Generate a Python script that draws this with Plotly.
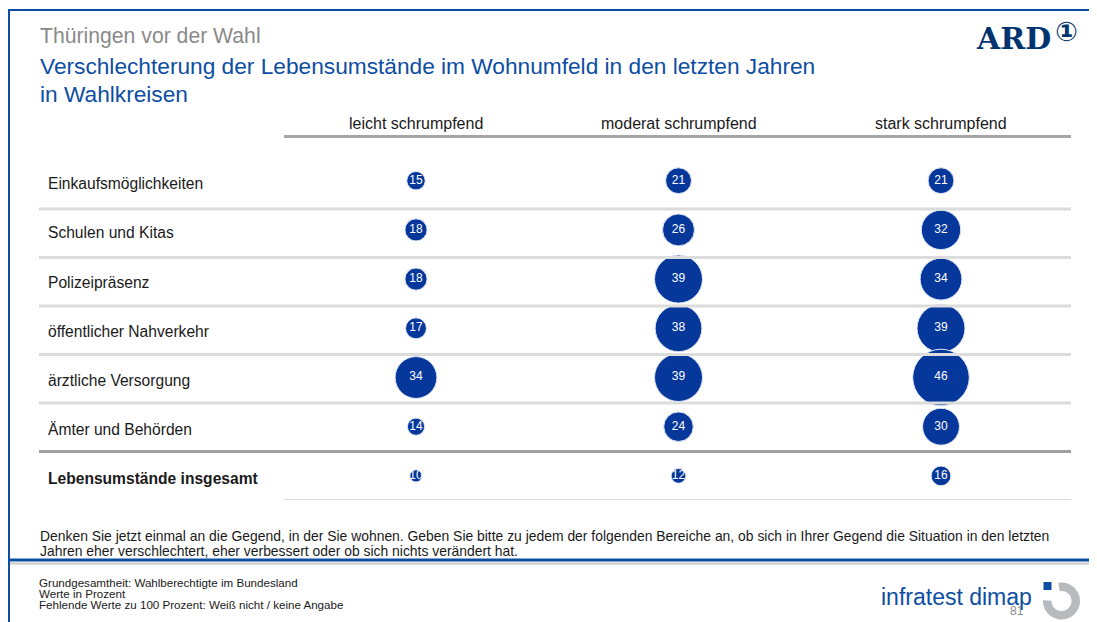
import numpy as np
import plotly.graph_objects as go

# browser body has an 8px margin, so the figure is drawn 8px smaller and shifted
OFF = 8
W, H = 1097 - OFF, 622 - OFF

rows = ["Einkaufsmöglichkeiten", "Schulen und Kitas", "Polizeipräsenz",
        "öffentlicher Nahverkehr", "ärztliche Versorgung", "Ämter und Behörden",
        "Lebensumstände insgesamt"]
cols = ["leicht schrumpfend", "moderat schrumpfend", "stark schrumpfend"]

leicht = [15, 18, 18, 17, 34, 14, 10]
moderat = [21, 26, 39, 38, 39, 24, 12]
stark = [21, 32, 34, 39, 46, 30, 16]
series = [leicht, moderat, stark]

title_top = "Thüringen vor der Wahl"
title_main = "Verschlechterung der Lebensumstände im Wohnumfeld in den letzten Jahren"
title_sub = "in Wahlkreisen"
question = ["Denken Sie jetzt einmal an die Gegend, in der Sie wohnen. Geben Sie bitte zu jedem der folgenden "
            "Bereiche an, ob sich in Ihrer Gegend die Situation in den letzten",
            "Jahren eher verschlechtert, eher verbessert oder ob sich nichts verändert hat."]
footer = ["Grundgesamtheit: Wahlberechtigte im Bundesland", "Werte in Prozent",
          "Fehlende Werte zu 100 Prozent: Weiß nicht / keine Angabe"]

BLUE = "#06389b"
FRAME = "#0d4ea3"
FONT = "Arial, Liberation Sans, sans-serif"


def px(x):
    return (x - OFF) / W


def py(y):
    return 1 - (y - OFF) / H


fig = go.Figure()

for col, vals in zip(cols, series):
    fig.add_trace(go.Scatter(
        x=[col] * len(rows), y=rows, mode="markers+text",
        text=[str(v) for v in vals], textposition="middle center",
        textfont=dict(color="white", size=12, family=FONT),
        marker=dict(size=vals, sizemode="diameter", sizeref=1 / 1.23, opacity=1,
                    color=BLUE, line=dict(color="#dfe6f5", width=1)),
        hoverinfo="skip", showlegend=False, cliponaxis=False))

shapes = []


def hline(y, x0, x1, color, width):
    shapes.append(dict(type="line", xref="paper", yref="paper",
                       x0=px(x0), x1=px(x1), y0=py(y), y1=py(y),
                       line=dict(color=color, width=width)))


# frame
hline(10, 8, 1097, FRAME, 2)
shapes.append(dict(type="line", xref="paper", yref="paper", x0=px(9), x1=px(9),
                   y0=py(9), y1=0, line=dict(color=FRAME, width=2)))
hline(560, 8, 1097, FRAME, 3)
hline(563.5, 10, 1097, "#c9c9c9", 2)

# table lines
hline(136.5, 284, 1071, "#a6a6a6", 3)
for y in [209, 257.5, 306, 354.5, 403]:
    hline(y, 39, 1071, "#dcdcdc", 3)
hline(451.5, 39, 1071, "#a0a0a0", 3)
hline(499.5, 284, 1071, "#dcdcdc", 1)

# infratest dimap mark
cx, cy, ro, ri = 1061.5, 601, 18.5, 10
ang = np.radians(np.linspace(100, -182, 60))
outer = [(cx + ro * np.cos(a), cy - ro * np.sin(a)) for a in ang]
inner = [(cx + ri * np.cos(a), cy - ri * np.sin(a)) for a in ang[::-1]]
pts = outer + inner
path = "M " + " L ".join(f"{px(x):.5f},{py(y):.5f}" for x, y in pts) + " Z"
shapes.append(dict(type="path", xref="paper", yref="paper", path=path,
                   fillcolor="#b8bbbe", line=dict(width=0)))
shapes.append(dict(type="rect", xref="paper", yref="paper",
                   x0=px(1043.5), x1=px(1051.5), y0=py(590), y1=py(582),
                   fillcolor="#0d4ea3", line=dict(width=0)))

ann = []
for r in rows:
    label = f"<b>{r}</b>" if r == rows[-1] else r
    ann.append(dict(text=label, xref="paper", yref="y", x=px(46), y=r,
                    xanchor="left", yanchor="middle", yshift=-3, showarrow=False,
                    font=dict(size=15.6, color="#1a1a1a", family=FONT)))
for c in cols:
    ann.append(dict(text=c, xref="x", yref="paper", x=c, y=py(124),
                    xanchor="center", yanchor="middle", showarrow=False,
                    font=dict(size=16, color="#1a1a1a", family=FONT)))

ann += [
    dict(text=title_top, x=px(38), y=py(36), font=dict(size=21.2, color="#8a8a8a", family=FONT)),
    dict(text=title_main, x=px(38), y=py(66), font=dict(size=22.7, color="#0d4ea3", family=FONT)),
    dict(text=title_sub, x=px(38), y=py(94), font=dict(size=22.7, color="#0d4ea3", family=FONT)),
    dict(text="<b>ARD</b>", x=px(974), y=py(38),
         font=dict(size=30, color="#00346f", family="DejaVu Serif, Liberation Serif, serif")),
    dict(text="<b>①</b>", x=px(1053), y=py(31),
         font=dict(size=27, color="#00346f", family="DejaVu Sans, sans-serif")),
    dict(text="infratest dimap", x=px(879), y=py(597),
         font=dict(size=23, color="#0d4ea3", family=FONT)),
    dict(text="81", x=px(1008), y=py(611),
         font=dict(size=12, color="#8a8a8a", family=FONT)),
]
for i, line in enumerate(question):
    ann.append(dict(text=line, x=px(38), y=py(535.5 + 15 * i),
                    font=dict(size=13.9, color="#1a1a1a", family=FONT)))
for i, line in enumerate(footer):
    ann.append(dict(text=line, x=px(37), y=py(582.5 + 11.2 * i),
                    font=dict(size=11.6, color="#1a1a1a", family=FONT)))

for a in ann:
    a.setdefault("xref", "paper")
    a.setdefault("yref", "paper")
    a.setdefault("xanchor", "left")
    a.setdefault("yanchor", "middle")
    a.setdefault("showarrow", False)

fig.update_layout(
    width=W, height=H, margin=dict(l=0, r=0, t=0, b=0),
    paper_bgcolor="white", plot_bgcolor="white",
    xaxis=dict(domain=[px(284.75), px(1072.25)], range=[-0.5, 2.5],
               categoryorder="array", categoryarray=cols,
               showgrid=False, zeroline=False, showticklabels=False, fixedrange=True),
    yaxis=dict(domain=[py(500.5), py(156.1)], range=[6.5, -0.5],
               categoryorder="array", categoryarray=rows,
               showgrid=False, zeroline=False, showticklabels=False, fixedrange=True),
    shapes=shapes, annotations=ann,
)

fig.write_html("out.html")
